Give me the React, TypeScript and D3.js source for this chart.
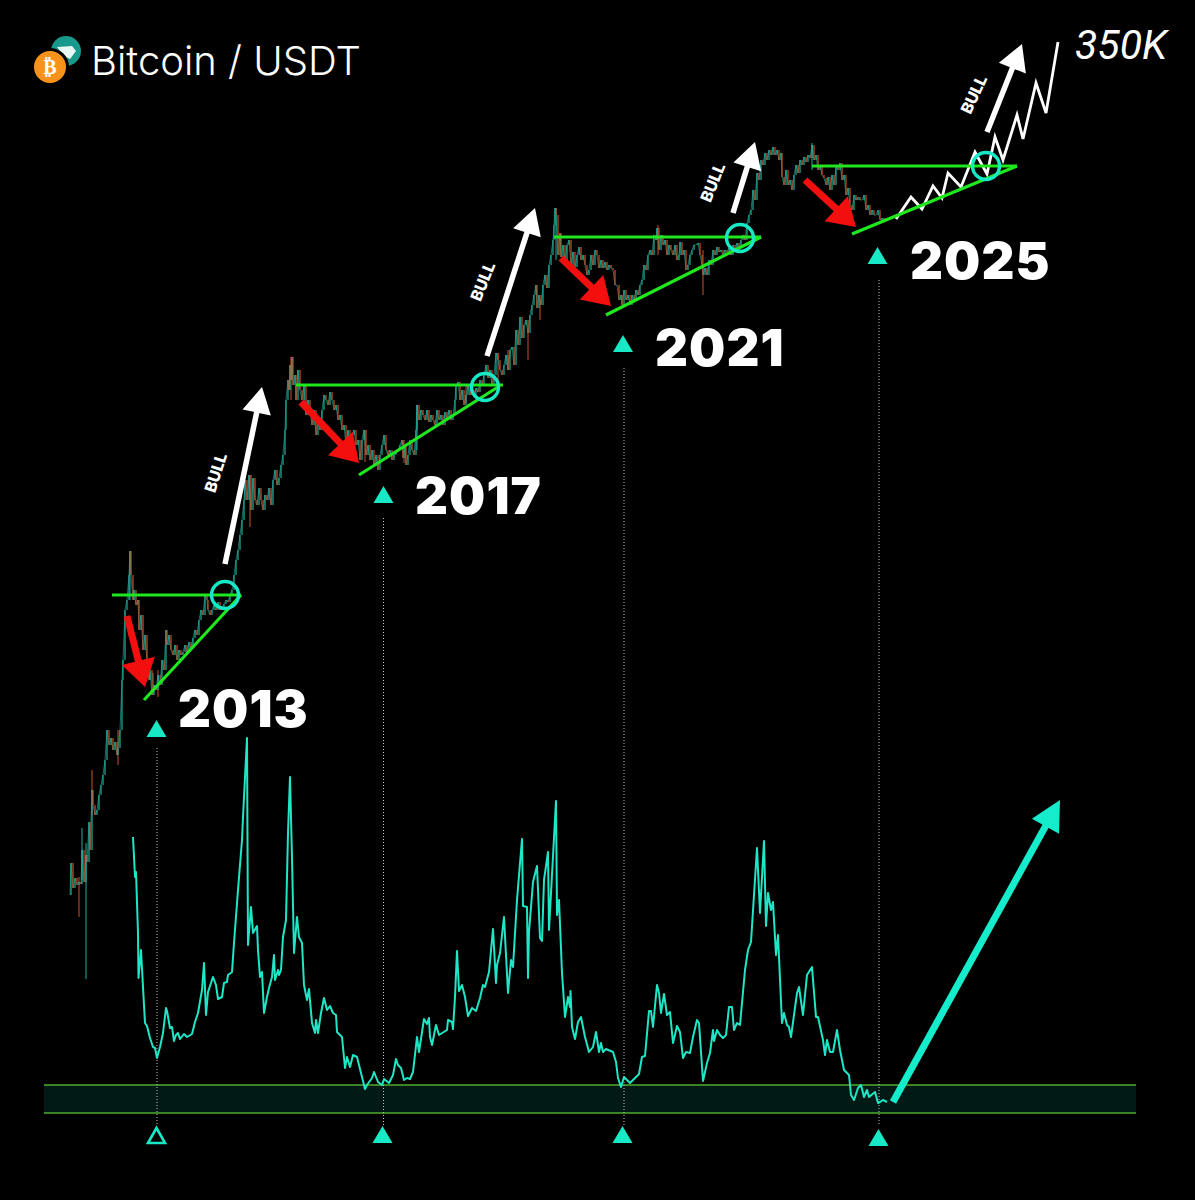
import * as d3 from "d3";
import { useRef, useEffect } from "react";

const width = 1195;
const height = 1200;

// oscillator: [bar, level above the band floor]
const oscillator: [number, number][] = [
  [133,276],[135,236],[136,241],[138,180],[138.5,135],[141,163],[143,126],[145,90],[147,87],[150,75],[153,66],[155,65],[157,55],[160,66],[163,80],[166,105],[167,102],[170,85],[172,86],[174,72],[176,78],[178,80],[180,74],[184,79],[187,76],[192,79],[195,91],[198,100],[202,123],[204,150],[206,98],[208,121],[213,136],[216,128],[218,114],[222,116],[224,130],[227,131],[228,138],[232,141],[234,170],[238,223],[242,273],[243,296],[247,375],[248,168],[251,206],[253,180],[257,187],[258,163],[260,136],[262,141],[264,100],[267,116],[269,125],[272,136],[274,158],[275,133],[278,143],[279,138],[281,143],[283,176],[286,193],[288,280],[290,336],[292,255],[294,160],[297,196],[299,176],[302,170],[304,128],[307,113],[309,124],[312,90],[315,80],[316,93],[318,80],[321,100],[324,115],[327,103],[330,107],[333,100],[336,98],[337,81],[342,76],[345,45],[347,56],[350,46],[353,58],[357,56],[362,36],[365,24],[367,28],[372,35],[374,41],[378,31],[382,28],[384,34],[389,30],[393,38],[396,54],[398,48],[401,45],[404,33],[407,35],[410,34],[413,41],[417,76],[419,61],[424,94],[427,89],[429,95],[430,76],[432,68],[436,88],[439,78],[447,83],[448,93],[452,91],[453,84],[455,116],[457,162],[459,122],[462,128],[465,116],[468,97],[472,105],[476,102],[480,115],[483,128],[485,126],[489,141],[493,184],[496,130],[497,148],[500,160],[504,196],[508,120],[511,153],[513,146],[517,213],[522,274],[523,207],[527,206],[528,135],[529,181],[533,231],[537,247],[540,175],[542,172],[544,233],[548,261],[549,183],[556,312],[557,198],[559,213],[562,140],[565,96],[568,116],[570,106],[570.5,122],[572,86],[575,74],[578,91],[581,96],[585,76],[589,61],[593,66],[596,81],[599,61],[601,70],[603,61],[606,64],[613,61],[616,51],[618,35],[621,26],[624,36],[630,30],[639,39],[642,56],[645,57],[649,102],[651,102],[653,86],[657,128],[659,120],[661,100],[664,119],[667,98],[670,101],[673,70],[677,87],[680,81],[683,55],[686,61],[690,60],[693,76],[697,93],[699,90],[703,32],[707,50],[710,60],[713,83],[714,72],[717,83],[720,78],[723,75],[726,78],[729,106],[732,106],[734,83],[737,90],[740,88],[745,143],[748,163],[751,171],[757,265],[760,200],[764,272],[766,187],[768,220],[771,203],[773,211],[776,158],[778,178],[782,90],[784,100],[787,88],[789,86],[791,76],[797,120],[799,126],[803,98],[807,138],[812,146],[816,96],[818,96],[823,73],[825,58],[827,73],[830,61],[833,61],[837,83],[840,63],[844,43],[849,38],[851,18],[854,13],[858,25],[861,28],[864,16],[867,23],[869,16],[875,21],[878,10],[880,11],[883,13],[887,11],
];

// candles: [bar, close]; each candle opens at the previous close
const closes: [number, number][] = [
  [70,305],[71,337],[73,312],[75,322],[77,315],[79,318],[81,316],[82,350],[84,318],[86,345],[87,338],[89,378],[90,350],[92,410],[93,395],[95,385],[97,390],[99,405],[101,415],[103,425],[105,440],[107,470],[109,455],[111,462],[113,450],[115,458],[117,445],[118,452],[120,470],[122,520],[123,540],[125,590],[127,600],[129,625],[130,649],[131,625],[133,600],[134,610],[136,595],[138,600],[139,570],[141,585],[143,550],[145,565],[147,540],[149,520],[150,530],[152,505],[154,515],[156,510],[158,525],[160,515],[162,540],[164,530],[166,570],[167,555],[169,565],[171,550],[173,545],[175,555],[177,540],[179,550],[181,545],[183,548],[185,555],[187,548],[189,558],[191,552],[193,562],[195,570],[197,565],[199,580],[201,590],[203,585],[205,605],[207,600],[208,590],[210,585],[212,590],[214,595],[216,590],[218,598],[220,590],[222,593],[224,596],[226,600],[228,598],[230,605],[232,610],[234,625],[236,640],[238,650],[240,665],[242,680],[244,700],[245,720],[247,700],[249,725],[251,690],[253,722],[255,700],[257,695],[259,712],[261,700],[263,690],[265,705],[267,700],[269,712],[271,695],
  [273,720],[275,730],[277,715],[279,722],[281,735],[283,745],[285,770],[286,800],[288,820],[289,810],[290,835],[291,820],[292,843],[293,815],[295,825],[296,800],[298,830],[300,810],[302,800],[304,815],[306,785],[308,800],[310,790],[312,775],[314,790],[316,765],[318,780],[320,770],[322,790],[324,805],[326,800],[328,795],[330,808],[332,800],[334,790],[336,795],[338,780],[340,785],[342,770],[344,775],[346,755],[348,770],[350,745],[352,765],[354,770],[356,755],[358,760],[360,740],[362,760],[364,770],[366,745],[368,755],[370,740],[372,750],[374,735],[376,745],[378,730],[380,745],[382,755],[384,765],[386,750],[388,745],[390,750],[392,740],[394,745],[396,748],[398,750],[400,755],[402,760],[403,742],[405,755],[406,735],[408,745],[410,760],[412,750],[414,745],[416,770],[417,795],[419,780],[421,790],[423,785],[425,780],[427,790],[429,778],[431,785],[433,780],[435,775],[437,790],[439,780],[441,785],[443,775],[445,788],[447,782],[449,790],[451,780],[453,785],[455,800],[456,815],[458,818],[460,800],[462,810],[464,795],[466,805],[468,815],[470,805],[472,810],[474,803],[476,812],[478,808],[480,820],[482,815],[484,825],[486,835],[488,822],[490,830],[492,815],[494,825],[496,847],[498,840],[500,830],[502,825],[504,835],[506,845],[508,830],[510,850],[512,853],[514,835],[516,870],[518,855],[520,883],[522,862],[524,875],[526,880],[528,867],[530,885],[532,895],[534,905],[536,915],[537,892],[539,905],[541,895],[543,915],[545,925],[547,912],[549,935],[551,945],[553,960],[554,975],[555,992],
  [556,985],[558,945],[560,967],[561,943],[563,955],[565,940],[567,955],[569,960],[571,935],[573,948],[575,933],[577,945],[579,953],[581,940],[583,945],[585,935],[587,925],[589,930],[591,945],[593,935],[595,950],[597,945],[599,932],[601,940],[603,932],[605,938],[607,930],[609,935],[611,932],[613,930],[615,915],[617,915],[619,900],[621,905],[622,895],[624,910],[626,900],[628,905],[630,895],[632,905],[634,900],[636,910],[638,905],[640,915],[642,920],[644,935],[646,930],[648,945],[650,950],[652,945],[654,965],[656,960],[657,972],[659,950],[661,965],[663,955],[665,960],[667,945],[669,955],[671,950],[673,945],[675,955],[677,940],[679,945],[680,958],[682,945],[684,950],[686,930],[688,935],[690,945],[692,950],[694,955],[696,955],[698,957],[700,945],[702,935],[703,925],[705,932],[707,925],[709,940],[711,935],[713,950],[715,945],[717,953],[719,948],[721,950],[723,945],[725,950],[727,948],[729,952],[731,945],[733,955],[735,950],[737,957],[739,952],[741,960],[743,965],[745,960],[747,977],[749,985],[751,990],[753,1010],[755,1000],[757,1027],[759,1020],[761,1040],[763,1035],[765,1047],[767,1040],[769,1050],[771,1045],[773,1053],[775,1045],[777,1050],[779,1040],[781,1047],[782,1023],[784,1015],[786,1030],[788,1015],[790,1020],[792,1010],[794,1025],[796,1035],[798,1027],[800,1040],[802,1035],[804,1043],[806,1038],[808,1045],[810,1042],[812,1055],[814,1040],[816,1045],[818,1030],[820,1035],[822,1025],[824,1022],[826,1015],[828,1023],[830,1010],[832,1025],[834,1015],[836,1033],[838,1030],[840,1037],[842,1020],[844,1025],[846,1005],[848,1012],[850,995],[852,990],[854,1005],[856,1000],[858,1003],[860,1000],[862,1000],[864,1005],[866,990],[868,995],[870,985],[872,990],[874,985],[876,985],[878,990],[880,980],[882,982],[884,980],[886,981],[888,981],
];

// long wicks that stick out of the bodies: [bar, high, low, rising?]
const wicks: [number, number, number, boolean][] = [
  [79,323,283,false],[82,372,320,true],[86,357,221,true],[92,430,385,false],[118,470,435,false],[130,649,600,true],[153,527,505,true],[158,530,503,false],[250,725,673,false],[291,843,800,false],[365,770,738,false],[404,760,737,false],[417,795,750,true],[466,815,797,false],[498,847,820,false],[508,850,830,false],[528,870,840,false],[556,992,940,true],[540,900,880,false],[658,975,945,false],[703,950,905,false],[812,1057,1030,true],
];

// projected path after 2025
const projection: [number, number][] = [
  [896,981],[911,1003],[922,991],[933,1014],[942,1002],[948,1027],[961,1013],[975,1048],[987,1026],[995,1063],[1003,1040],[1017,1085],[1023,1061],[1036,1117],[1046,1087],[1058,1158],
];

const years = ["2013", "2017", "2021", "2025"];
const yearBars = [178, 415, 655, 910];
const yearLevels = [473, 686, 834, 921];
const upperMarkBars = [156.5, 383.5, 623, 877.5];
const upperMarkLevels = [463, 697, 848, 936];
const lowerMarkBars = [156.5, 382.5, 622.5, 878.5];
const lowerMarkDepths = [30, 30, 30, 33];
const dropBars = [157, 383.5, 624, 879];
const dropLevels = [452, 682, 832, 920];

// resistance: [from bar, to bar, level]; trend: [from bar, level, to bar, level]
const resistance: [number, number, number][] = [[112,241,605],[296,503,815],[554,761,963],[812,1017,1034]];
const trend: [number, number, number, number][] = [[144,500,241,605],[359,725,498,813],[606,885,761,963],[852,966,1017,1034]];
const breakouts: [number, number][] = [[225,605],[485,813],[740,962],[986,1034]];

// arrows: [start bar, start level, tip bar, tip level]
const dropArrows: [number, number, number, number][] = [[127,584,145,513],[301,798,359,737],[561,942,611,894],[805,1020,856,973]];
const bullArrows: [number, number, number, number][] = [[225,636,262,813],[487,844,535,992],[733,987,755,1058],[987,1068,1022,1156]];
const bullLabels: [number, number, number][] = [[217,727,-72],[484,918,-68],[714,1017,-68],[975,1105,-65]];
const riseArrow: [number, number, number, number] = [893,11,1060,313];

const TEAL = "#17e8c6";
const LIME = "#1fe81f";
const RED = "#f40f0f";
const UP = "#22b09c";
const DOWN = "#cc5228";

export default function App() {
  const ref = useRef<SVGSVGElement | null>(null);

  useEffect(() => {
    const svg = d3.select(ref.current);
    svg.selectAll("*").remove();

    const x = d3.scaleLinear().domain([44, 1136]).range([44, 1136]);
    const yPrice = d3.scaleLinear().domain([0, 1200]).range([1200, 0]);
    const yOsc = d3.scaleLinear().domain([0, 343]).range([1113, 770]);

    svg.append("rect").attr("width", width).attr("height", height).attr("fill", "#000");

    // band behind the oscillator
    svg.append("rect")
      .attr("x", x(44)).attr("width", x(1136) - x(44))
      .attr("y", yOsc(28)).attr("height", yOsc(0) - yOsc(28))
      .attr("fill", "#021a16");
    svg.append("g").selectAll("line").data([0, 28]).join("line")
      .attr("x1", x(44)).attr("x2", x(1136))
      .attr("y1", d => yOsc(d)).attr("y2", d => yOsc(d))
      .attr("stroke", "#4cae2c").attr("stroke-width", 1.3);

    // dotted drops
    svg.append("g").selectAll("line").data(dropBars).join("line")
      .attr("x1", d => x(d)).attr("x2", d => x(d))
      .attr("y1", (_, i) => yPrice(dropLevels[i])).attr("y2", 1125)
      .attr("stroke", "#c4c4c4").attr("stroke-width", 1).attr("stroke-dasharray", "1 2");

    // wicks and candle bodies
    svg.append("g").selectAll("line").data(wicks).join("line")
      .attr("x1", d => x(d[0])).attr("x2", d => x(d[0]))
      .attr("y1", d => yPrice(d[1])).attr("y2", d => yPrice(d[2]))
      .attr("stroke", d => d[3] ? UP : DOWN).attr("stroke-width", 1);
    // thin tie between candles so the run reads as one body, as in the blurred original
    const closeLine = d3.line<[number, number]>().x(d => x(d[0])).y(d => yPrice(d[1]));
    svg.append("path").attr("d", closeLine(closes)).attr("fill", "none")
      .attr("stroke", UP).attr("stroke-width", 0.9).attr("stroke-opacity", 0.7);
    svg.append("g").selectAll("line").data(closes.slice(1)).join("line")
      .attr("x1", d => x(d[0])).attr("x2", d => x(d[0]))
      .attr("y1", (_, i) => yPrice(closes[i][1])).attr("y2", d => yPrice(d[1]))
      .attr("stroke", (d, i) => d[1] >= closes[i][1] ? UP : DOWN)
      .attr("stroke-width", 1.2);

    // oscillator
    const oscLine = d3.line<[number, number]>().x(d => x(d[0])).y(d => yOsc(d[1]));
    svg.append("path").attr("d", oscLine(oscillator)).attr("fill", "none")
      .attr("stroke", "#1fe6c6").attr("stroke-width", 2).attr("stroke-linejoin", "round");

    // projection zigzag
    const priceLine = d3.line<[number, number]>().x(d => x(d[0])).y(d => yPrice(d[1]));
    svg.append("path").attr("d", priceLine(projection)).attr("fill", "none")
      .attr("stroke", "#fff").attr("stroke-width", 2.8);

    // resistance and trend lines
    svg.append("g").selectAll("line").data(resistance).join("line")
      .attr("x1", d => x(d[0])).attr("x2", d => x(d[1]))
      .attr("y1", d => yPrice(d[2])).attr("y2", d => yPrice(d[2]))
      .attr("stroke", LIME).attr("stroke-width", 3.2);
    svg.append("g").selectAll("line").data(trend).join("line")
      .attr("x1", d => x(d[0])).attr("x2", d => x(d[2]))
      .attr("y1", d => yPrice(d[1])).attr("y2", d => yPrice(d[3]))
      .attr("stroke", LIME).attr("stroke-width", 3.2);
    svg.append("g").selectAll("circle").data(breakouts).join("circle")
      .attr("cx", d => x(d[0])).attr("cy", d => yPrice(d[1])).attr("r", 13.5)
      .attr("fill", "none").attr("stroke", TEAL).attr("stroke-width", 3.4);

    // arrow = shaft plus a head built from the tip direction
    const arrow = (p: number[], yy: (v: number) => number, color: string, w: number, headLen: number, halfW: number) => {
      const x0 = x(p[0]), y0 = yy(p[1]), x1 = x(p[2]), y1 = yy(p[3]);
      const len = Math.hypot(x1 - x0, y1 - y0);
      const ux = (x1 - x0) / len, uy = (y1 - y0) / len;
      const bx = x1 - ux * headLen, by = y1 - uy * headLen;
      svg.append("line").attr("x1", x0).attr("y1", y0).attr("x2", bx + ux).attr("y2", by + uy)
        .attr("stroke", color).attr("stroke-width", w);
      svg.append("polygon")
        .attr("points", [[x1, y1], [bx - uy * halfW, by + ux * halfW], [bx + uy * halfW, by - ux * halfW]].join(" "))
        .attr("fill", color);
    };
    dropArrows.forEach(a => arrow(a, yPrice, RED, 7, 27, 17));
    bullArrows.forEach(a => arrow(a, yPrice, "#fff", 5.5, 26, 14.5));
    arrow(riseArrow, yOsc, "#14eccb", 7, 30, 15.5);

    // triangle marks
    const tri = (cx: number, base: number, hollow = false) => {
      const half = hollow ? 8.5 : 10;
      const rise = hollow ? 15 : 17;
      const pts = [[cx - half, base], [cx + half, base], [cx, base - rise]];
      svg.append("polygon").attr("points", pts.join(" "))
        .attr("fill", hollow ? "none" : TEAL)
        .attr("stroke", hollow ? TEAL : "none").attr("stroke-width", hollow ? 2.6 : 0);
    };
    upperMarkBars.forEach((b, i) => tri(x(b), yPrice(upperMarkLevels[i])));
    lowerMarkBars.forEach((b, i) => tri(x(b), yOsc(-lowerMarkDepths[i]), i === 0));

    // labels
    svg.append("g").selectAll("text").data(years).join("text")
      .attr("x", (_, i) => x(yearBars[i])).attr("y", (_, i) => yPrice(yearLevels[i]))
      .attr("font-family", "Inter").attr("font-weight", 900).attr("font-size", 51)
      .attr("letter-spacing", 1.1)
      .attr("fill", "#fff").text(d => d);
    svg.append("g").selectAll("text").data(bullLabels).join("text")
      .attr("transform", d => `translate(${x(d[0])},${yPrice(d[1])}) rotate(${d[2]})`)
      .attr("text-anchor", "middle").attr("dominant-baseline", "middle")
      .attr("font-family", "Inter").attr("font-weight", 800).attr("font-size", 16)
      .attr("fill", "#fff").text("BULL");

    svg.append("text").attr("x", 1075).attr("y", 59)
      .attr("font-family", "Roboto").attr("font-style", "italic").attr("font-weight", 400)
      .attr("font-size", 41).attr("fill", "#fff").text("350K");

    // title and logo
    svg.append("text").attr("x", 91).attr("y", 75)
      .attr("font-family", "Inter").attr("font-weight", 300).attr("font-size", 40)
      .attr("fill", "#fff").text("Bitcoin / USDT");
    svg.append("circle").attr("cx", 66).attr("cy", 51).attr("r", 15).attr("fill", "#17998c");
    svg.append("polygon").attr("points", "57,47 72,46 76,51 70,59 64,56").attr("fill", "#e8f6f4");
    svg.append("circle").attr("cx", 50).attr("cy", 67).attr("r", 17.5).attr("fill", "#f7931a").attr("stroke", "#000").attr("stroke-width", 3);
    svg.append("text").attr("x", 50).attr("y", 74).attr("text-anchor", "middle")
      .attr("font-family", "DejaVu Sans").attr("font-weight", 700).attr("font-size", 20)
      .attr("fill", "#fff").text("₿");
  }, []);

  return (
    <svg ref={ref} width={width} height={height} viewBox={`0 0 ${width} ${height}`}
      style={{ position: "absolute", left: 0, top: 0, display: "block" }} />
  );
}
